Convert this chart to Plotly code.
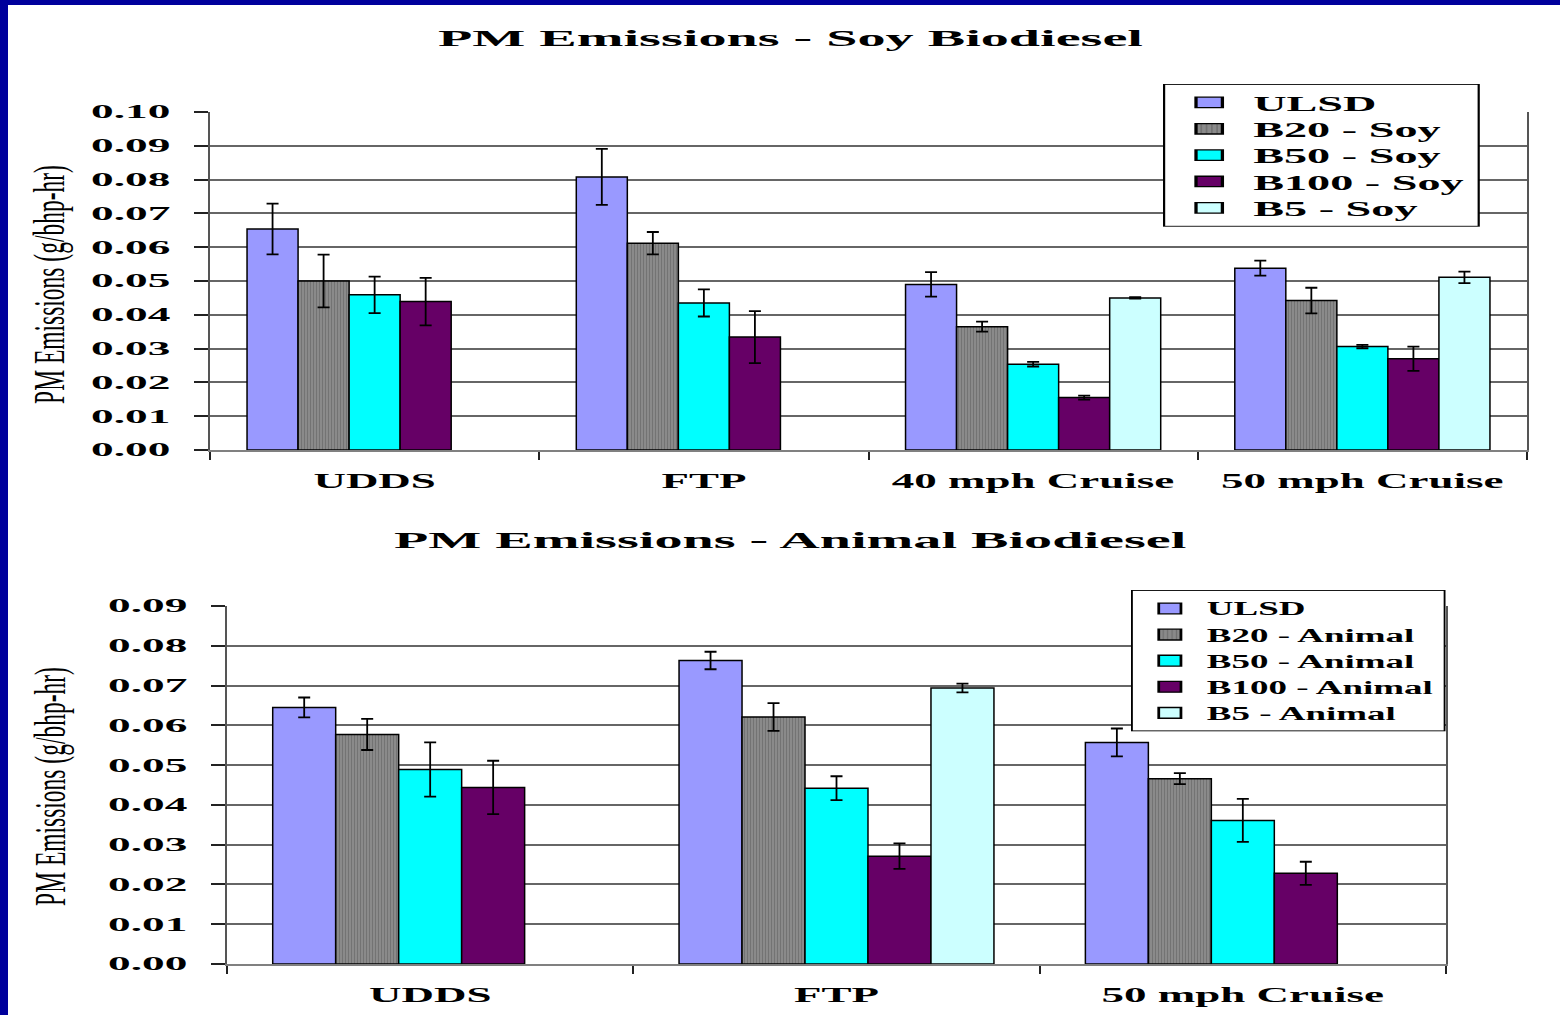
import plotly.graph_objects as go

# ---- data: PM emissions (g/bhp-hr) with +/- error ----
soy_cycles = ["UDDS", "FTP", "40 mph Cruise", "50 mph Cruise"]
soy_names = ["ULSD", "B20 - Soy", "B50 - Soy", "B100 - Soy", "B5 - Soy"]
soy_ulsd = [0.0654, 0.0808, 0.0490, 0.0538]
soy_ulsd_err = [0.0075, 0.0083, 0.0036, 0.0022]
soy_b20 = [0.0500, 0.0612, 0.0365, 0.0442]
soy_b20_err = [0.0078, 0.0033, 0.0015, 0.0038]
soy_b50 = [0.0459, 0.0435, 0.0254, 0.0306]
soy_b50_err = [0.0054, 0.0040, 0.0007, 0.0005]
soy_b100 = [0.0439, 0.0334, 0.0155, 0.0270]
soy_b100_err = [0.0070, 0.0077, 0.0006, 0.0036]
soy_b5 = [None, None, 0.0450, 0.0511]
soy_b5_err = [0, 0, 0.0002, 0.0017]

animal_cycles = ["UDDS", "FTP", "50 mph Cruise"]
animal_names = ["ULSD", "B20 - Animal", "B50 - Animal", "B100 - Animal", "B5 - Animal"]
animal_ulsd = [0.0645, 0.0763, 0.0557]
animal_ulsd_err = [0.0025, 0.0022, 0.0035]
animal_b20 = [0.0577, 0.0621, 0.0466]
animal_b20_err = [0.0039, 0.0035, 0.0014]
animal_b50 = [0.0489, 0.0442, 0.0361]
animal_b50_err = [0.0068, 0.0030, 0.0054]
animal_b100 = [0.0444, 0.0271, 0.0228]
animal_b100_err = [0.0067, 0.0032, 0.0029]
animal_b5 = [None, 0.0694, None]
animal_b5_err = [0, 0.0011, 0]

soy_ticks = [0.00, 0.01, 0.02, 0.03, 0.04, 0.05, 0.06, 0.07, 0.08, 0.09, 0.10]
animal_ticks = [0.00, 0.01, 0.02, 0.03, 0.04, 0.05, 0.06, 0.07, 0.08, 0.09]

# ---- styling ----
FILLS = ["#9999FF", "#888888", "#00FFFF", "#660066", "#CCFFFF"]
SERIF = "Liberation Serif"

fig = go.Figure()


def add_group(cycles, names, series, errors, xa, ya, legend):
    for i, (name, vals, errs) in enumerate(zip(names, series, errors)):
        marker = dict(color=FILLS[i], line=dict(color="#000000", width=1.5))
        if i == 1:
            # fine vertical hatching on the B20 bars
            marker["pattern"] = dict(shape="|", fillmode="replace", bgcolor="#8A8A8A",
                                     fgcolor="#707070", size=3, solidity=0.3)
        fig.add_trace(go.Bar(
            x=cycles, y=vals, name=name, marker=marker,
            error_y=dict(type="data", array=errs, visible=True, color="#000000",
                         thickness=1.8, width=6),
            xaxis=xa, yaxis=ya, legend=legend,
        ))


add_group(soy_cycles, soy_names,
          [soy_ulsd, soy_b20, soy_b50, soy_b100, soy_b5],
          [soy_ulsd_err, soy_b20_err, soy_b50_err, soy_b100_err, soy_b5_err],
          "x", "y", "legend")
add_group(animal_cycles, animal_names,
          [animal_ulsd, animal_b20, animal_b50, animal_b100, animal_b5],
          [animal_ulsd_err, animal_b20_err, animal_b50_err, animal_b100_err, animal_b5_err],
          "x2", "y2", "legend2")

W, H = 1560, 1015


def px_x(p):
    return p / W


def px_y(p):
    return 1 - p / H


xaxis_style = dict(
    type="category", tickson="boundaries", ticks="outside", ticklen=8, tickwidth=1.5,
    tickcolor="#222222", showline=True, linecolor="#808080", linewidth=2,
    showgrid=False, ticklabelstandoff=12, automargin=False,
    tickfont=dict(family=SERIF, size=20, color="#000000", weight="bold"),
)
yaxis_style = dict(
    ticks="outside", ticklen=14, tickwidth=1.5, tickcolor="#222222",
    showline=True, mirror=True, linecolor="#555555", linewidth=1.8,
    showgrid=True, gridcolor="#666666", gridwidth=1.5, zeroline=False,
    tickformat=".2f", ticklabelstandoff=20, automargin=False,
    tickfont=dict(family=SERIF, size=18.5, color="#000000", weight="bold"),
)

fig.update_layout(
    width=W, height=H, autosize=False,
    margin=dict(l=0, r=0, t=0, b=0, pad=0, autoexpand=False),
    paper_bgcolor="#FFFFFF", plot_bgcolor="#FFFFFF",
    font=dict(family=SERIF, color="#000000"),
    barmode="group", bargap=0.225, bargroupgap=0,
    showlegend=True,
    xaxis=dict(domain=[px_x(210), px_x(1527)], anchor="y", **xaxis_style),
    yaxis=dict(domain=[px_y(450), px_y(112)], anchor="x", range=[0, 0.10],
               tickvals=soy_ticks, **yaxis_style),
    xaxis2=dict(domain=[px_x(227), px_x(1446)], anchor="y2", **xaxis_style),
    yaxis2=dict(domain=[px_y(964), px_y(606)], anchor="x2", range=[0, 0.09],
                tickvals=animal_ticks, **yaxis_style),
    legend=dict(x=px_x(1163), y=px_y(84), xanchor="left", yanchor="top",
                bgcolor="#FFFFFF", bordercolor="#000000", borderwidth=1,
                tracegroupgap=0, traceorder="normal",
                font=dict(family=SERIF, size=21, color="#000000", weight="bold")),
    legend2=dict(x=px_x(1131), y=px_y(590), xanchor="left", yanchor="top",
                 bgcolor="#FFFFFF", bordercolor="#000000", borderwidth=1,
                 tracegroupgap=0, traceorder="normal",
                 font=dict(family=SERIF, size=20, color="#000000", weight="bold")),
    annotations=[
        dict(text="PM Emissions - Soy Biodiesel", x=px_x(791), y=px_y(38),
             xref="paper", yref="paper", xanchor="center", yanchor="middle",
             showarrow=False, font=dict(family=SERIF, size=24, weight="bold")),
        dict(text="PM Emissions - Animal Biodiesel", x=px_x(790), y=px_y(540),
             xref="paper", yref="paper", xanchor="center", yanchor="middle",
             showarrow=False, font=dict(family=SERIF, size=24, weight="bold")),
        dict(text="PM Emissions (g/bhp-hr)", x=px_x(49), y=px_y(285), textangle=-90,
             xref="paper", yref="paper", xanchor="center", yanchor="middle",
             showarrow=False, font=dict(family=SERIF, size=23.5)),
        dict(text="PM Emissions (g/bhp-hr)", x=px_x(50), y=px_y(787), textangle=-90,
             xref="paper", yref="paper", xanchor="center", yanchor="middle",
             showarrow=False, font=dict(family=SERIF, size=23.5)),
    ],
    shapes=[
        # slide frame: dark blue bars along the left and top edges
        dict(type="rect", xref="paper", yref="paper", x0=0, x1=px_x(8), y0=0, y1=1,
             fillcolor="#00009C", line=dict(width=0), layer="above"),
        dict(type="rect", xref="paper", yref="paper", x0=0, x1=1, y0=px_y(5), y1=1,
             fillcolor="#00009C", line=dict(width=0), layer="above"),
    ],
)

# Page tidy-up, then widen the lettering horizontally (extended typeface look).
stretch_js = """
document.documentElement.style.margin = '0';
document.documentElement.style.overflow = 'hidden';
document.body.style.margin = '0';
document.body.style.padding = '0';
document.body.style.overflow = 'hidden';
var gd = document.getElementById('{plot_id}');
function addT(el, t) {
  var cur = el.getAttribute('transform') || '';
  el.setAttribute('transform', (cur + ' ' + t).trim());
}
function stretchX(el, s) {
  var bb = el.getBBox();
  var a = el.getAttribute('text-anchor');
  var ax = a === 'end' ? bb.x + bb.width : (a === 'start' ? bb.x : bb.x + bb.width / 2);
  addT(el, 'translate(' + ax + ',0) scale(' + s + ',1) translate(' + (-ax) + ',0)');
}
function stretchY(el, s) {
  var bb = el.getBBox();
  var cy = bb.y + bb.height / 2;
  addT(el, 'translate(0,' + cy + ') scale(1,' + s + ') translate(0,' + (-cy) + ')');
}
gd.querySelectorAll('.ytick text, .y2tick text').forEach(function (el) { stretchX(el, 2.45); });
gd.querySelectorAll('.xtick text, .x2tick text').forEach(function (el) { stretchX(el, 2.25); });
gd.querySelectorAll('g.annotation').forEach(function (g) {
  var i = +g.getAttribute('data-index');
  var ann = gd.layout.annotations[i];
  var el = g.querySelector('text.annotation-text');
  if (!el) return;
  if (ann.textangle) { stretchY(el, 1.9); } else { stretchX(el, 2.34); }
});
[['legend', 2.2, 0.87], ['legend2', 1.85, 0.9]].forEach(function (p) {
  var lg = gd.querySelector('g.' + p[0]);
  if (lg) addT(lg, 'scale(' + p[1] + ',' + p[2] + ')');
});
gd.querySelectorAll('.legendtext').forEach(function (el) { stretchY(el, 1.2); });
"""

fig.write_html("out.html", post_script=stretch_js)
